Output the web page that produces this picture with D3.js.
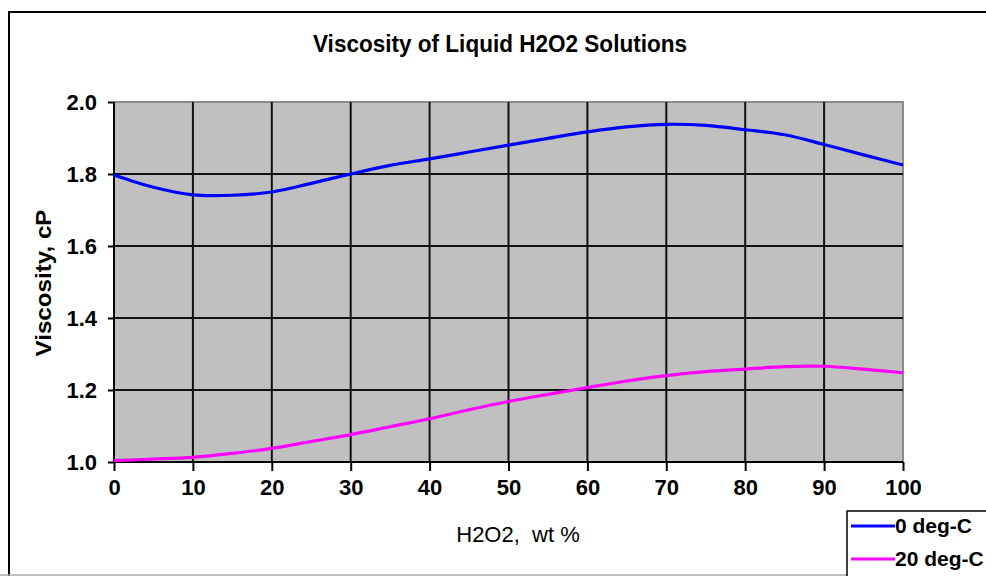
<!DOCTYPE html>
<html>
<head>
<meta charset="utf-8">
<script src="https://cdn.jsdelivr.net/npm/d3@7"></script>
<style>
  html, body { margin: 0; padding: 0; background: #fff; }
  svg { display: block; }
  text { font-family: Arial, "Liberation Sans", sans-serif; fill: #000; }
</style>
</head>
<body>
<svg id="chart" width="986" height="576"></svg>
<script>
// ---- data ----
const wtPercent = [0, 5, 10, 15, 20, 25, 30, 35, 40, 45, 50, 55, 60, 65, 70, 75, 80, 85, 90, 95, 100];
const visc0C  = [1.797, 1.763, 1.742, 1.741, 1.750, 1.774, 1.800, 1.824, 1.842, 1.861, 1.880, 1.899, 1.917, 1.931, 1.938, 1.935, 1.923, 1.909, 1.882, 1.853, 1.825];
const visc20C = [1.004, 1.008, 1.013, 1.024, 1.038, 1.057, 1.076, 1.098, 1.120, 1.145, 1.168, 1.188, 1.207, 1.225, 1.240, 1.251, 1.258, 1.265, 1.266, 1.258, 1.248];
const seriesNames = ["0 deg-C", "20 deg-C"];
const xTicks = [0, 10, 20, 30, 40, 50, 60, 70, 80, 90, 100];
const yTicks = [1.0, 1.2, 1.4, 1.6, 1.8, 2.0];
const titleText = "Viscosity of Liquid H2O2 Solutions";
const xLabel = "H2O2,  wt %";
const yLabel = "Viscosity, cP";

// ---- layout ----
const W = 986, H = 576;
const plot = { left: 114, right: 903, top: 102, bottom: 462 };
const colors = ["#0000ff", "#ff00ff"];

const svg = d3.select("#chart");

// outer frame
svg.append("line").attr("x1", 9).attr("x2", W).attr("y1", 12).attr("y2", 12)
  .attr("stroke", "#000").attr("stroke-width", 2);
svg.append("line").attr("x1", 9).attr("x2", 9).attr("y1", 11).attr("y2", H)
  .attr("stroke", "#000").attr("stroke-width", 2);
svg.append("line").attr("x1", 0).attr("x2", W).attr("y1", 575).attr("y2", 575)
  .attr("stroke", "#aaa").attr("stroke-width", 1.5);

const x = d3.scaleLinear().domain([0, 100]).range([plot.left, plot.right]);
const y = d3.scaleLinear().domain([1.0, 2.0]).range([plot.bottom, plot.top]);

// plot background
svg.append("rect")
  .attr("x", plot.left).attr("y", plot.top)
  .attr("width", plot.right - plot.left).attr("height", plot.bottom - plot.top)
  .attr("fill", "#c0c0c0");

// plot border (top/right gray)
svg.append("path")
  .attr("d", `M${plot.left},${plot.top}H${plot.right}V${plot.bottom}`)
  .attr("fill", "none").attr("stroke", "#8a8a8a").attr("stroke-width", 2);

// gridlines
const grid = svg.append("g").attr("stroke", "#111").attr("stroke-width", 2);
grid.selectAll(".vg").data(xTicks.filter(d => d > 0 && d < 100)).enter().append("line")
  .attr("x1", d => x(d)).attr("x2", d => x(d))
  .attr("y1", plot.top).attr("y2", plot.bottom);
grid.selectAll(".hg").data(yTicks.filter(d => d > 1.0 && d < 2.0)).enter().append("line")
  .attr("x1", plot.left).attr("x2", plot.right)
  .attr("y1", d => y(d)).attr("y2", d => y(d));

// axes
const xAxis = d3.axisBottom(x).tickValues(xTicks).tickSize(9).tickPadding(8).tickFormat(d3.format("d"));
const yAxis = d3.axisLeft(y).tickValues(yTicks).tickSize(6).tickPadding(11).tickFormat(d3.format(".1f"));

const gx = svg.append("g").attr("transform", `translate(0,${plot.bottom})`).call(xAxis);
const gy = svg.append("g").attr("transform", `translate(${plot.left},0)`).call(yAxis);
[gx, gy].forEach(g => {
  g.select(".domain").attr("stroke", "#000").attr("stroke-width", 2);
  g.selectAll(".tick line").attr("stroke", "#000").attr("stroke-width", 2);
  g.selectAll(".tick text").attr("font-size", 22).attr("font-weight", "bold")
    .attr("font-family", "Arial, 'Liberation Sans', sans-serif").attr("fill", "#000");
});
gx.select(".domain").attr("d", `M${plot.left},0H${plot.right}`);
gy.select(".domain").attr("d", `M0,${plot.bottom}V${plot.top}`);
gx.selectAll(".tick text").attr("dy", "0.71em");

// series lines
const line = d3.line().x((d, i) => x(wtPercent[i])).y(d => y(d)).curve(d3.curveCatmullRom.alpha(0.5));
[visc0C, visc20C].forEach((s, k) => {
  svg.append("path").datum(s)
    .attr("d", line)
    .attr("fill", "none")
    .attr("stroke", colors[k])
    .attr("stroke-width", 3.2)
    .attr("stroke-linejoin", "round");
});

// title
svg.append("text")
  .attr("x", 500).attr("y", 52)
  .attr("text-anchor", "middle")
  .attr("font-size", 23).attr("font-weight", "bold")
  .attr("textLength", 374).attr("lengthAdjust", "spacingAndGlyphs")
  .text(titleText);

// x label
svg.append("text")
  .attr("x", 518).attr("y", 542)
  .attr("text-anchor", "middle")
  .attr("font-size", 22)
  .style("white-space", "pre")
  .attr("xml:space", "preserve")
  .text(xLabel);

// y label
svg.append("text")
  .attr("transform", `translate(51,283) rotate(-90)`)
  .attr("text-anchor", "middle")
  .attr("font-size", 22).attr("font-weight", "bold")
  .attr("textLength", 147).attr("lengthAdjust", "spacingAndGlyphs")
  .text(yLabel);

// legend
const lg = svg.append("g");
lg.append("rect").attr("x", 847).attr("y", 511).attr("width", 200).attr("height", 100)
  .attr("fill", "#fff").attr("stroke", "#000").attr("stroke-width", 1.5);
const legendY = [526, 559];
seriesNames.forEach((name, k) => {
  lg.append("line").attr("x1", 851).attr("x2", 895)
    .attr("y1", legendY[k]).attr("y2", legendY[k])
    .attr("stroke", colors[k]).attr("stroke-width", 3.2);
  lg.append("text").attr("x", 895).attr("y", legendY[k]).attr("dy", "0.35em")
    .attr("font-size", 21).attr("font-weight", "bold")
    .text(name);
});
</script>
</body>
</html>
